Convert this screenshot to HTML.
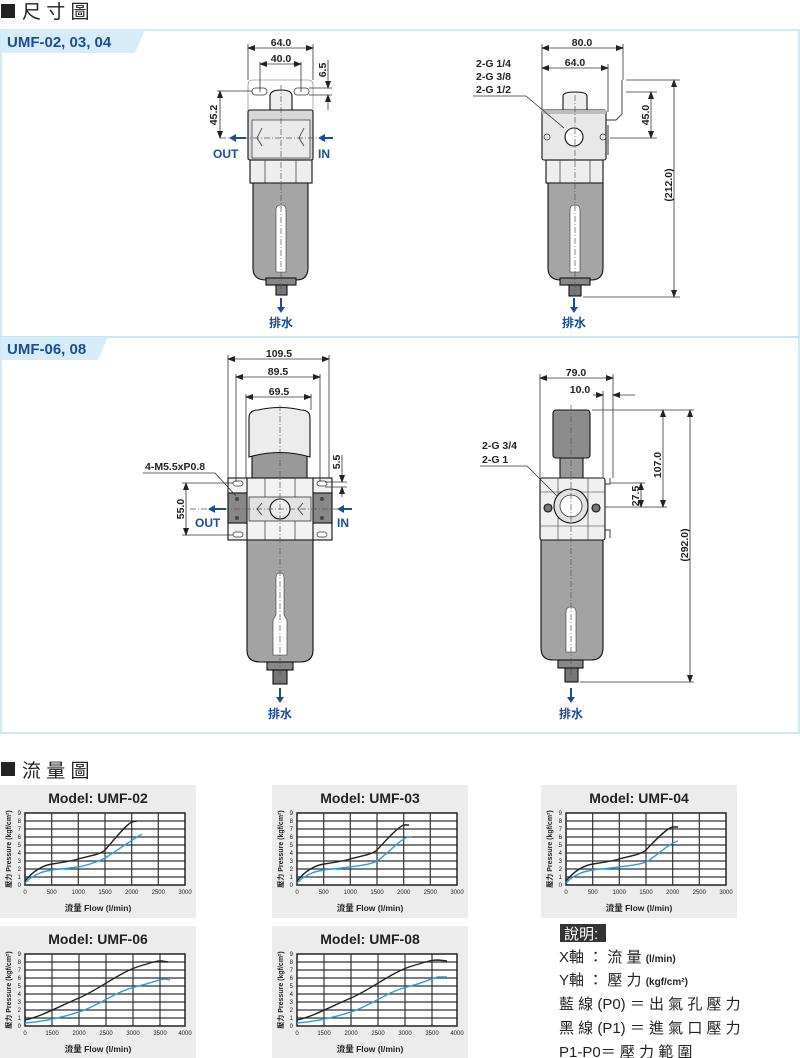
<!DOCTYPE html>
<html><head><meta charset="utf-8"><style>
html,body{margin:0;padding:0;background:#fff;width:800px;height:1058px;overflow:hidden}
svg{display:block}
text{font-family:"Liberation Sans","Noto Sans CJK TC",sans-serif}
.dim{font-size:10.5px;font-weight:bold;fill:#222}
.bl{font-size:12px;font-weight:bold;fill:#1b4d94}
.ln{stroke:#333;stroke-width:0.8;fill:none}
.ol{stroke:#111;stroke-width:1.1}
.cl{stroke:#555;stroke-width:0.7;stroke-dasharray:6 2 1 2;fill:none}
.ct{font-size:14px;font-weight:bold;fill:#222}
.tk{font-size:6px;fill:#222}
.at{font-size:8.5px;font-weight:bold;fill:#222}
.yt{font-size:7px;font-weight:bold;fill:#222}
.gr{stroke:#333;stroke-width:1.2}
.k{stroke:#222;stroke-width:1.4;fill:none}
.b{stroke:#2aa0dc;stroke-width:1.4;fill:none}
.lg{font-size:15px;fill:#222;font-family:"Liberation Sans","Noto Sans CJK TC",sans-serif}
.hd{font-size:19px;fill:#222;font-family:"Liberation Sans","Noto Sans CJK TC",sans-serif}
</style></head><body>
<svg width="800" height="1058" viewBox="0 0 800 1058" xmlns="http://www.w3.org/2000/svg">
<defs>
<marker id="ar" markerWidth="8" markerHeight="6" refX="7" refY="3" orient="auto" markerUnits="userSpaceOnUse"><path d="M0,0 L8,3 L0,6 Z" fill="#222"/></marker>
<marker id="as" markerWidth="8" markerHeight="6" refX="1" refY="3" orient="auto" markerUnits="userSpaceOnUse"><path d="M8,0 L0,3 L8,6 Z" fill="#222"/></marker>
<g id="grid">
<rect x="0" y="0" width="196" height="133" fill="#ececec"/>
<rect x="25" y="28" width="160" height="72" fill="#fff" stroke="#222" stroke-width="1.5"/>
<g class="gr">
<line x1="25" y1="36" x2="185" y2="36"/><line x1="25" y1="44" x2="185" y2="44"/><line x1="25" y1="52" x2="185" y2="52"/><line x1="25" y1="60" x2="185" y2="60"/><line x1="25" y1="68" x2="185" y2="68"/><line x1="25" y1="76" x2="185" y2="76"/><line x1="25" y1="84" x2="185" y2="84"/><line x1="25" y1="92" x2="185" y2="92"/>
</g>
<g class="tk" text-anchor="end"><text x="21" y="102">0</text><text x="21" y="94">1</text><text x="21" y="86">2</text><text x="21" y="78">3</text><text x="21" y="70">4</text><text x="21" y="62">5</text><text x="21" y="54">6</text><text x="21" y="46">7</text><text x="21" y="38">8</text><text x="21" y="30">9</text></g>
<text class="yt" transform="translate(11,64) rotate(-90)" text-anchor="middle">壓力 Pressure (kgf/cm²)</text>
<text class="at" x="98" y="126" text-anchor="middle">流量 Flow (l/min)</text>
</g>
<g id="v3">
<g class="gr"><line x1="51.7" y1="28" x2="51.7" y2="100"/><line x1="78.3" y1="28" x2="78.3" y2="100"/><line x1="105" y1="28" x2="105" y2="100"/><line x1="131.7" y1="28" x2="131.7" y2="100"/><line x1="158.3" y1="28" x2="158.3" y2="100"/></g>
<g class="tk" text-anchor="middle"><text x="25" y="109">0</text><text x="51.7" y="109">500</text><text x="78.3" y="109">1000</text><text x="105" y="109">1500</text><text x="131.7" y="109">2000</text><text x="158.3" y="109">2500</text><text x="185" y="109">3000</text></g>
</g>
<g id="v4">
<g class="gr"><line x1="52" y1="28" x2="52" y2="100"/><line x1="79" y1="28" x2="79" y2="100"/><line x1="106" y1="28" x2="106" y2="100"/><line x1="133" y1="28" x2="133" y2="100"/><line x1="160" y1="28" x2="160" y2="100"/></g>
<g class="tk" text-anchor="middle"><text x="25" y="109">0</text><text x="52" y="109">1500</text><text x="79" y="109">2000</text><text x="106" y="109">2500</text><text x="133" y="109">3000</text><text x="160" y="109">3500</text><text x="185" y="109">4000</text></g>
</g>
</defs>

<!-- Titles -->
<rect x="1" y="4" width="14" height="14" fill="#222"/>
<text x="22" y="18" class="hd">尺 寸 圖</text>
<rect x="1" y="762" width="14" height="14" fill="#222"/>
<text x="22" y="777" class="hd">流 量 圖</text>

<!-- Section frames -->
<rect x="1" y="30" width="798" height="307" fill="none" stroke="#bfe2f3" stroke-width="1.5"/>
<rect x="1" y="337" width="798" height="396" fill="none" stroke="#bfe2f3" stroke-width="1.5"/>
<path d="M1,30 L145,30 L135,53 L1,53 Z" fill="#d6edf9"/>
<text x="7" y="47" style="font-size:15px;font-weight:bold;fill:#1b4d94">UMF-02, 03, 04</text>
<path d="M1,337 L108,337 L98,360 L1,360 Z" fill="#d6edf9"/>
<text x="7" y="354" style="font-size:15px;font-weight:bold;fill:#1b4d94">UMF-06, 08</text>

<!-- ===== Diagram 1 ===== -->
<g>
<path d="M248,160 L248,85 Q248,80 253,80 L308,80 Q313,80 313,85 L313,160" fill="none" stroke="#999" stroke-width="0.8"/>
<rect x="252" y="88" width="15" height="7" rx="3.5" fill="#fff" stroke="#333" stroke-width="0.8"/>
<rect x="294" y="88" width="15" height="7" rx="3.5" fill="#fff" stroke="#333" stroke-width="0.8"/>
<path d="M270,110 L270,96 Q270,90 281,90 Q292,90 292,96 L292,110 Z" fill="#eee" class="ol"/>
<rect x="248" y="110" width="65" height="50" rx="2" fill="#d8d8d8" class="ol"/>
<rect x="252" y="120" width="58" height="38" fill="#eaeaea" stroke="#333" stroke-width="0.7"/>
<path d="M262,128 L257,138 L262,146" fill="none" stroke="#333" stroke-width="0.8"/>
<path d="M304,128 L299,138 L304,146" fill="none" stroke="#333" stroke-width="0.8"/>
<rect x="250" y="160" width="62" height="23" fill="#eee" class="ol"/>
<line x1="265" y1="160" x2="265" y2="183" stroke="#333" stroke-width="0.7"/>
<line x1="296" y1="160" x2="296" y2="183" stroke="#333" stroke-width="0.7"/>
<path d="M253,183 L308,183 L308,268 Q308,280 296,280 L266,280 Q253,280 253,268 Z" fill="#a5a5a5" class="ol"/>
<path d="M276,210 Q276,205 281,205 Q286,205 286,210 L286,272 L276,272 Z" fill="#fff" stroke="#333" stroke-width="0.6"/>
<rect x="266" y="278" width="30" height="7" fill="#888" class="ol"/>
<rect x="276" y="285" width="11" height="10" fill="#777" class="ol"/>
<line class="cl" x1="281" y1="85" x2="281" y2="295"/>
<line class="cl" x1="220" y1="138" x2="333" y2="138"/>
<line x1="281" y1="298" x2="281" y2="310" stroke="#1b4d94" stroke-width="2"/>
<path d="M277,307 L281,313 L285,307 Z" fill="#1b4d94"/>
<text x="281" y="327" class="bl" text-anchor="middle">排水</text>
<path d="M246,138 L232,138" stroke="#1b4d94" stroke-width="2"/><path d="M229,138 L236,134 L236,142Z" fill="#1b4d94"/>
<path d="M333,138 L322,138" stroke="#1b4d94" stroke-width="2"/><path d="M318,138 L325,134 L325,142Z" fill="#1b4d94"/>
<text x="213" y="158" class="bl">OUT</text><text x="318" y="158" class="bl">IN</text>
<line class="ln" x1="248" y1="44" x2="248" y2="80"/><line class="ln" x1="313" y1="44" x2="313" y2="80"/>
<line class="ln" x1="248" y1="48" x2="313" y2="48" marker-start="url(#as)" marker-end="url(#ar)"/>
<text class="dim" x="281" y="46" text-anchor="middle">64.0</text>
<line class="ln" x1="260" y1="62" x2="260" y2="92"/><line class="ln" x1="301" y1="62" x2="301" y2="92"/>
<line class="ln" x1="260" y1="64" x2="301" y2="64" marker-start="url(#as)" marker-end="url(#ar)"/>
<text class="dim" x="281" y="62" text-anchor="middle">40.0</text>
<line class="ln" x1="309" y1="88" x2="332" y2="88"/><line class="ln" x1="309" y1="95" x2="332" y2="95"/>
<line class="ln" x1="328" y1="60" x2="328" y2="88" marker-end="url(#ar)"/><line class="ln" x1="328" y1="110" x2="328" y2="95" marker-end="url(#ar)"/>
<text class="dim" transform="translate(326,70) rotate(-90)" text-anchor="middle">6.5</text>
<line class="ln" x1="217" y1="91" x2="252" y2="91"/>
<line class="ln" x1="220" y1="91" x2="220" y2="138" marker-start="url(#as)" marker-end="url(#ar)"/>
<text class="dim" transform="translate(217,115) rotate(-90)" text-anchor="middle">45.2</text>
</g>

<!-- ===== Diagram 2 ===== -->
<g>
<path d="M563,110 L563,96 Q563,92 575,92 Q587,92 587,96 L587,110 Z" fill="#eee" class="ol"/>
<rect x="542" y="110" width="64" height="50" rx="2" fill="#e8e8e8" class="ol"/>
<rect x="542" y="110" width="64" height="4" fill="#bbb"/>
<circle cx="574" cy="137" r="9" fill="#fff" class="ol"/>
<circle cx="547" cy="137" r="3" fill="none" stroke="#333" stroke-width="0.7"/>
<circle cx="603" cy="137" r="3" fill="none" stroke="#333" stroke-width="0.7"/>
<rect x="546" y="160" width="57" height="23" fill="#eee" class="ol"/>
<line x1="560" y1="160" x2="560" y2="183" stroke="#333" stroke-width="0.7"/><line x1="590" y1="160" x2="590" y2="183" stroke="#333" stroke-width="0.7"/>
<path d="M548,183 L603,183 L603,268 Q603,280 591,280 L561,280 Q548,280 548,268 Z" fill="#a5a5a5" class="ol"/>
<path d="M570,210 Q570,205 575,205 Q580,205 580,210 L580,272 L570,272 Z" fill="#fff" stroke="#333" stroke-width="0.6"/>
<rect x="560" y="278" width="30" height="7" fill="#888" class="ol"/>
<rect x="569" y="285" width="12" height="11" fill="#777" class="ol"/>
<line class="cl" x1="575" y1="95" x2="575" y2="295"/>
<path d="M606,120 L616,120 L622,114 L622,80" fill="none" stroke="#333" stroke-width="0.9"/>
<line x1="608" y1="125" x2="608" y2="155" stroke="#333" stroke-width="1"/>
<line x1="574" y1="298" x2="574" y2="310" stroke="#1b4d94" stroke-width="2"/>
<path d="M570,307 L574,313 L578,307 Z" fill="#1b4d94"/>
<text x="574" y="327" class="bl" text-anchor="middle">排水</text>
<line class="ln" x1="542" y1="44" x2="542" y2="110"/><line class="ln" x1="623" y1="44" x2="623" y2="80"/><line class="ln" x1="608" y1="64" x2="608" y2="112"/>
<line class="ln" x1="542" y1="48" x2="623" y2="48" marker-start="url(#as)" marker-end="url(#ar)"/>
<text class="dim" x="582" y="46" text-anchor="middle">80.0</text>
<line class="ln" x1="542" y1="68" x2="608" y2="68" marker-start="url(#as)" marker-end="url(#ar)"/>
<text class="dim" x="575" y="66" text-anchor="middle">64.0</text>
<line class="ln" x1="626" y1="80" x2="680" y2="80"/><line class="ln" x1="626" y1="92" x2="657" y2="92"/>
<line class="ln" x1="610" y1="138" x2="657" y2="138"/><line class="ln" x1="583" y1="297" x2="680" y2="297"/>
<line class="ln" x1="651" y1="92" x2="651" y2="138" marker-start="url(#as)" marker-end="url(#ar)"/>
<text class="dim" transform="translate(649,115) rotate(-90)" text-anchor="middle">45.0</text>
<line class="ln" x1="674" y1="80" x2="674" y2="297" marker-start="url(#as)" marker-end="url(#ar)"/>
<text class="dim" transform="translate(672,185) rotate(-90)" text-anchor="middle">(212.0)</text>
<text class="dim" x="476" y="67">2-G 1/4</text><text class="dim" x="476" y="80">2-G 3/8</text><text class="dim" x="476" y="93">2-G 1/2</text>
<polyline class="ln" points="473,96 526,96 564,128"/>
</g>

<!-- ===== Diagram 3 ===== -->
<g>
<rect x="252" y="448" width="55" height="32" fill="#999" class="ol"/>
<path d="M249,457 L249,418 Q249,410 258,410 Q280,405 301,410 Q310,410 310,418 L310,457 Q280,448 249,457 Z" fill="#ececec" class="ol"/>
<rect x="228" y="478" width="20" height="62" fill="#f3f3f3" class="ol"/>
<rect x="312" y="478" width="20" height="62" fill="#f3f3f3" class="ol"/>
<rect x="228" y="493" width="20" height="30" fill="#888" class="ol"/>
<rect x="312" y="493" width="20" height="30" fill="#888" class="ol"/>
<rect x="233" y="481" width="10" height="5" rx="2.5" fill="#fff" stroke="#333" stroke-width="0.7"/>
<rect x="317" y="481" width="10" height="5" rx="2.5" fill="#fff" stroke="#333" stroke-width="0.7"/>
<rect x="233" y="532" width="10" height="5" rx="2.5" fill="#fff" stroke="#333" stroke-width="0.7"/>
<rect x="317" y="532" width="10" height="5" rx="2.5" fill="#fff" stroke="#333" stroke-width="0.7"/>
<circle cx="237" cy="499" r="2" fill="#444"/><circle cx="237" cy="518" r="2" fill="#444"/>
<circle cx="322" cy="499" r="2" fill="#444"/><circle cx="322" cy="518" r="2" fill="#444"/>
<rect x="247" y="478" width="66" height="62" fill="#f2f2f2" class="ol"/>
<rect x="249" y="497" width="62" height="24" fill="#e2e2e2" stroke="#333" stroke-width="0.8"/>
<line x1="265" y1="478" x2="265" y2="497" stroke="#333" stroke-width="0.7"/><line x1="295" y1="478" x2="295" y2="497" stroke="#333" stroke-width="0.7"/>
<line x1="265" y1="521" x2="265" y2="540" stroke="#333" stroke-width="0.7"/><line x1="295" y1="521" x2="295" y2="540" stroke="#333" stroke-width="0.7"/>
<circle cx="280" cy="509" r="10" fill="#eee" class="ol"/>
<path d="M262,503 L257,509 L262,515" fill="none" stroke="#333" stroke-width="0.8"/><path d="M303,503 L298,509 L303,515" fill="none" stroke="#333" stroke-width="0.8"/>
<path d="M247,540 L313,540 L313,650 Q313,662 300,662 L260,662 Q247,662 247,650 Z" fill="#a3a3a3" class="ol"/>
<path d="M276,578 Q276,573 280,573 Q284,573 284,578 L284,615 L287,620 L287,655 L273,655 L273,620 L276,615 Z" fill="#fff" stroke="#333" stroke-width="0.6"/>
<rect x="267" y="662" width="26" height="8" fill="#888" class="ol"/>
<rect x="273" y="670" width="14" height="14" fill="#777" class="ol"/>
<line class="cl" x1="280" y1="405" x2="280" y2="685"/>
<line class="cl" x1="190" y1="509" x2="350" y2="509"/>
<line x1="280" y1="688" x2="280" y2="699" stroke="#1b4d94" stroke-width="2"/>
<path d="M276,697 L280,703 L284,697 Z" fill="#1b4d94"/>
<text x="280" y="718" class="bl" text-anchor="middle">排水</text>
<path d="M226,509 L212,509" stroke="#1b4d94" stroke-width="2"/><path d="M208,509 L215,505 L215,513Z" fill="#1b4d94"/>
<path d="M352,509 L341,509" stroke="#1b4d94" stroke-width="2"/><path d="M337,509 L344,505 L344,513Z" fill="#1b4d94"/>
<text x="195" y="527" class="bl">OUT</text><text x="337" y="527" class="bl">IN</text>
<line class="ln" x1="228" y1="355" x2="228" y2="478"/><line class="ln" x1="329" y1="355" x2="329" y2="478"/>
<line class="ln" x1="236" y1="374" x2="236" y2="482"/><line class="ln" x1="320" y1="374" x2="320" y2="482"/>
<line class="ln" x1="246" y1="394" x2="246" y2="478"/><line class="ln" x1="311" y1="394" x2="311" y2="410"/>
<line class="ln" x1="228" y1="359" x2="329" y2="359" marker-start="url(#as)" marker-end="url(#ar)"/>
<text class="dim" x="279" y="357" text-anchor="middle">109.5</text>
<line class="ln" x1="236" y1="377" x2="320" y2="377" marker-start="url(#as)" marker-end="url(#ar)"/>
<text class="dim" x="278" y="375" text-anchor="middle">89.5</text>
<line class="ln" x1="246" y1="397" x2="311" y2="397" marker-start="url(#as)" marker-end="url(#ar)"/>
<text class="dim" x="279" y="395" text-anchor="middle">69.5</text>
<line class="ln" x1="325" y1="482" x2="347" y2="482"/><line class="ln" x1="325" y1="487" x2="347" y2="487"/>
<line class="ln" x1="342" y1="455" x2="342" y2="482" marker-end="url(#ar)"/><line class="ln" x1="342" y1="497" x2="342" y2="487" marker-end="url(#ar)"/>
<text class="dim" transform="translate(340,462) rotate(-90)" text-anchor="middle">5.5</text>
<line class="ln" x1="182" y1="483" x2="233" y2="483"/><line class="ln" x1="182" y1="535" x2="233" y2="535"/>
<line class="ln" x1="186" y1="483" x2="186" y2="535" marker-start="url(#as)" marker-end="url(#ar)"/>
<text class="dim" transform="translate(184,509) rotate(-90)" text-anchor="middle">55.0</text>
<text class="dim" x="145" y="470">4-M5.5xP0.8</text>
<polyline class="ln" points="143,473 215,473 236,496"/>
</g>

<!-- ===== Diagram 4 ===== -->
<g>
<rect x="560" y="455" width="23" height="25" fill="#999" class="ol"/>
<rect x="553" y="410" width="37" height="48" rx="3" fill="#8c8c8c" class="ol"/>
<rect x="540" y="478" width="65" height="62" rx="2" fill="#f0f0f0" class="ol"/>
<line x1="558" y1="478" x2="558" y2="540" stroke="#333" stroke-width="0.6"/><line x1="588" y1="478" x2="588" y2="540" stroke="#333" stroke-width="0.6"/>
<line x1="540" y1="492" x2="605" y2="492" stroke="#333" stroke-width="0.5"/><line x1="540" y1="526" x2="605" y2="526" stroke="#333" stroke-width="0.5"/>
<circle cx="571" cy="506" r="17" fill="#e2e2e2" class="ol"/>
<circle cx="571" cy="506" r="11" fill="#fff" stroke="#333" stroke-width="0.8"/>
<circle cx="548" cy="508" r="4" fill="#777" class="ol"/><circle cx="596" cy="508" r="4" fill="#777" class="ol"/>
<path d="M605,484 L610,484 L610,478 M605,530 L610,530 L610,538" fill="none" stroke="#333" stroke-width="0.9"/>
<path d="M541,540 L603,540 L603,648 Q603,660 591,660 L553,660 Q541,660 541,648 Z" fill="#a3a3a3" class="ol"/>
<path d="M566,612 Q566,607 571,607 Q576,607 576,612 L576,652 L566,652 Z" fill="#fff" stroke="#333" stroke-width="0.6"/>
<rect x="558" y="660" width="25" height="8" fill="#888" class="ol"/>
<rect x="565" y="668" width="13" height="14" fill="#777" class="ol"/>
<line class="cl" x1="571" y1="405" x2="571" y2="682"/>
<line x1="571" y1="688" x2="571" y2="699" stroke="#1b4d94" stroke-width="2"/>
<path d="M567,697 L571,703 L575,697 Z" fill="#1b4d94"/>
<text x="571" y="718" class="bl" text-anchor="middle">排水</text>
<line class="ln" x1="540" y1="374" x2="540" y2="478"/><line class="ln" x1="613" y1="374" x2="613" y2="478"/>
<line class="ln" x1="603" y1="391" x2="603" y2="478"/>
<line class="ln" x1="540" y1="378" x2="613" y2="378" marker-start="url(#as)" marker-end="url(#ar)"/>
<text class="dim" x="576" y="376" text-anchor="middle">79.0</text>
<line class="ln" x1="593" y1="395" x2="603" y2="395" marker-end="url(#ar)"/><line class="ln" x1="635" y1="395" x2="613" y2="395" marker-end="url(#ar)"/>
<text class="dim" x="580" y="393" text-anchor="middle">10.0</text>
<line class="ln" x1="592" y1="410" x2="694" y2="410"/><line class="ln" x1="610" y1="483" x2="645" y2="483"/>
<line class="ln" x1="605" y1="507" x2="667" y2="507"/><line class="ln" x1="580" y1="682" x2="694" y2="682"/>
<line class="ln" x1="663" y1="410" x2="663" y2="507" marker-start="url(#as)" marker-end="url(#ar)"/>
<text class="dim" transform="translate(661,465) rotate(-90)" text-anchor="middle">107.0</text>
<line class="ln" x1="641" y1="483" x2="641" y2="507" marker-start="url(#as)" marker-end="url(#ar)"/>
<text class="dim" transform="translate(639,496) rotate(-90)" text-anchor="middle">27.5</text>
<line class="ln" x1="690" y1="410" x2="690" y2="682" marker-start="url(#as)" marker-end="url(#ar)"/>
<text class="dim" transform="translate(688,545) rotate(-90)" text-anchor="middle">(292.0)</text>
<text class="dim" x="482" y="449">2-G 3/4</text><text class="dim" x="482" y="463">2-G 1</text>
<polyline class="ln" points="480,466 527,466 557,496"/>
</g>

<!-- ===== Charts ===== -->
<g transform="translate(0,785)"><use href="#grid"/><use href="#v3"/>
<text class="ct" x="98" y="18" text-anchor="middle">Model: UMF-02</text>
<path class="k" d="M25,96 C35,84 45,80 52,79 S72,76 78,74 S100,70 105,65 S125,40 132,37 L137,36"/>
<path class="b" d="M25,98 C35,88 45,86 52,85 S72,83 78,82 S98,77 105,73 S130,56 142,49"/>
</g>
<g transform="translate(272,785)"><use href="#grid"/><use href="#v3"/>
<text class="ct" x="98" y="18" text-anchor="middle">Model: UMF-03</text>
<path class="k" d="M25,96 C35,84 45,80 52,79 S72,76 78,74 S100,70 105,65 S125,42 132,40 L137,40"/>
<path class="b" d="M25,98 C35,88 45,86 52,85 S72,83 78,82 S98,80 105,76 S128,54 136,52 L140,52"/>
</g>
<g transform="translate(541,785)"><use href="#grid"/><use href="#v3"/>
<text class="ct" x="98" y="18" text-anchor="middle">Model: UMF-04</text>
<path class="k" d="M25,96 C35,84 45,80 52,79 S72,76 78,74 S100,70 105,65 S125,43 132,42 L137,42"/>
<path class="b" d="M25,98 C35,88 45,86 52,85 S72,83 78,82 S98,80 105,77 S128,58 137,56"/>
</g>
<g transform="translate(0,926)"><use href="#grid"/><use href="#v4"/>
<text class="ct" x="98" y="18" text-anchor="middle">Model: UMF-06</text>
<path class="k" d="M25,94 C40,91 60,80 79,72 S120,46 140,40 S158,35 162,35 L168,36"/>
<path class="b" d="M25,97 C40,96 60,92 79,86 S115,66 135,61 S160,53 165,53 L170,54"/>
</g>
<g transform="translate(272,926)"><use href="#grid"/><use href="#v4"/>
<text class="ct" x="98" y="18" text-anchor="middle">Model: UMF-08</text>
<path class="k" d="M25,94 C40,91 60,80 79,72 S120,46 140,40 S160,34 166,34 L175,35"/>
<path class="b" d="M25,97 C40,96 60,92 79,86 S115,66 135,61 S160,52 166,51 L175,51"/>
</g>

<!-- Legend -->
<rect x="560" y="924" width="46" height="18" fill="#333"/>
<text x="564" y="939" style="font-size:15px;fill:#fff;font-family:'Liberation Sans','Noto Sans CJK TC',sans-serif">說明:</text>
<text class="lg" x="559" y="962">X軸 ： 流 量 <tspan style="font-size:10px;font-weight:bold">(l/min)</tspan></text>
<text class="lg" x="559" y="985">Y軸 ： 壓 力 <tspan style="font-size:10px;font-weight:bold">(kgf/cm²)</tspan></text>
<text class="lg" x="559" y="1009">藍 線 (P0) ＝ 出 氣 孔 壓 力</text>
<text class="lg" x="559" y="1033">黑 線 (P1) ＝ 進 氣 口 壓 力</text>
<text class="lg" x="559" y="1057">P1-P0＝ 壓 力 範 圍</text>
</svg>
</body></html>
